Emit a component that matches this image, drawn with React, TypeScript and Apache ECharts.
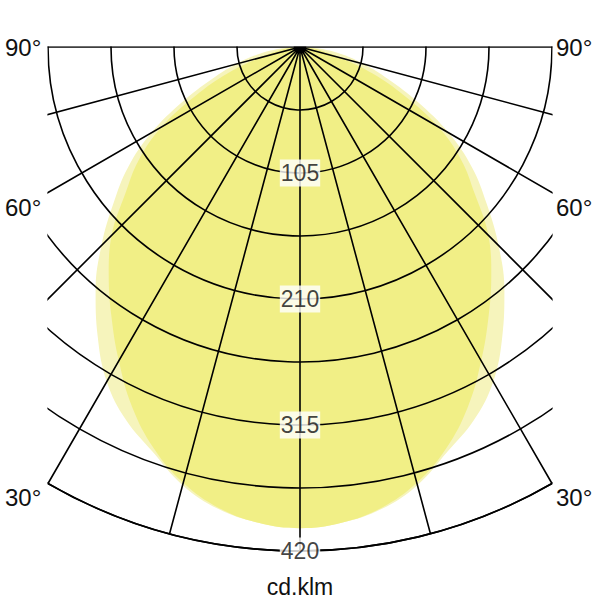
import React, { useEffect, useRef } from 'react';
import * as echarts from 'echarts';

// Polar angles (degrees from nadir) at which the curves were read
const angles = [0, 5, 10, 15, 20, 25, 30, 35, 40, 45, 50, 55, 60, 65, 70, 75, 80, 85, 90];
// Outer (lighter) curve, cd/klm
const lightValues = [401, 398, 391, 378, 359, 343, 322, 294, 265, 234, 203, 175, 143, 108, 78, 55, 36, 17, 0];
// Inner (darker) curve, cd/klm
const darkValues = [401, 398, 390, 376, 356, 331, 302, 274, 248, 222, 190, 164, 133, 96, 64, 36, 19, 8, 0];
// Radius tick labels
const radiusLabels = [105, 210, 315, 420];
// Side angle labels
const angleLabels = ['90°', '60°', '30°'];
const unitLabel = 'cd.klm';

const FONT = '"Liberation Sans", Arial, Helvetica, sans-serif';
const TEXT = '#111';

function toPolar(values: number[]) {
  const pts: number[][] = [];
  for (let i = angles.length - 1; i >= 0; i--) pts.push([values[i], angles[i]]);
  for (let i = 1; i < angles.length; i++) pts.push([values[i], 360 - angles[i]]);
  return pts;
}

export default function App() {
  const ref = useRef<HTMLDivElement>(null);
  useEffect(() => {
    const chart = echarts.init(ref.current as HTMLDivElement, null, { renderer: 'svg' });
    const gridLine = { color: '#000', width: 1.6 };
    const labelYs = [47, 207, 497];
    const textEls: any[] = [];
    const sideStyle = (t: string) => ({
      text: t, fill: TEXT, fontSize: 24, fontFamily: FONT,
      textAlign: 'left', align: 'left', textVerticalAlign: 'middle', verticalAlign: 'middle',
    });
    angleLabels.forEach((t, i) => {
      textEls.push({ type: 'text', z: 60, x: 5, y: labelYs[i], style: sideStyle(t) });
      textEls.push({ type: 'text', z: 60, x: 556, y: labelYs[i], style: sideStyle(t) });
    });
    textEls.push({
      type: 'text', z: 60, x: 300, y: 587,
      style: { text: unitLabel, fill: TEXT, fontSize: 23, fontFamily: FONT, textAlign: 'center', align: 'center', textVerticalAlign: 'middle', verticalAlign: 'middle' },
    });

    chart.setOption({
      animation: false,
      backgroundColor: '#fff',
      polar: { center: [300, 47], radius: 504 },
      angleAxis: {
        type: 'value', min: 0, max: 360, interval: 15, startAngle: 270, clockwise: true, z: 3,
        axisLine: { show: true, lineStyle: gridLine },
        axisTick: { show: false },
        axisLabel: { show: false },
        splitLine: { show: true, lineStyle: gridLine },
      },
      radiusAxis: {
        type: 'value', min: 0, max: 420, interval: 52.5, z: 3,
        axisLine: { show: false },
        axisTick: { show: false },
        axisLabel: { show: false },
        splitLine: { show: true, lineStyle: gridLine },
      },
      graphic: {
        elements: [
          { type: 'rect', z: 50, shape: { x: 0, y: 0, width: 600, height: 46.2 }, style: { fill: '#fff' } },
          { type: 'rect', z: 50, shape: { x: 0, y: 0, width: 47.4, height: 600 }, style: { fill: '#fff' } },
          { type: 'rect', z: 50, shape: { x: 552.6, y: 0, width: 47.4, height: 600 }, style: { fill: '#fff' } },
          ...textEls,
        ],
      },
      series: [
        {
          type: 'line', coordinateSystem: 'polar', data: toPolar(lightValues), z: 1,
          showSymbol: false, symbol: 'none', silent: true, smooth: 0.4,
          lineStyle: { width: 0, color: '#f6f4bc' },
          itemStyle: { color: '#f6f4bc' },
          areaStyle: { color: '#f6f4bc', opacity: 1 },
        },
        {
          type: 'line', coordinateSystem: 'polar', data: toPolar(darkValues), z: 2,
          showSymbol: false, symbol: 'none', silent: true, smooth: 0.4,
          lineStyle: { width: 0, color: '#f1ef86' },
          itemStyle: { color: '#f1ef86' },
          areaStyle: { color: '#f1ef86', opacity: 1 },
        },
        {
          type: 'scatter', coordinateSystem: 'polar', z: 10,
          data: radiusLabels.map((v) => [v, 0]),
          symbolSize: 1, itemStyle: { color: 'rgba(0,0,0,0)' },
          label: {
            show: true, position: 'inside',
            formatter: (p: any) => String(p.value[0]),
            color: TEXT, fontSize: 23, fontFamily: FONT,
            backgroundColor: '#fff', padding: [2, 1],
          },
        },
      ],
    });
    return () => chart.dispose();
  }, []);
  return <div ref={ref} style={{ position: 'absolute', left: 0, top: 0, width: 600, height: 600 }} />;
}
